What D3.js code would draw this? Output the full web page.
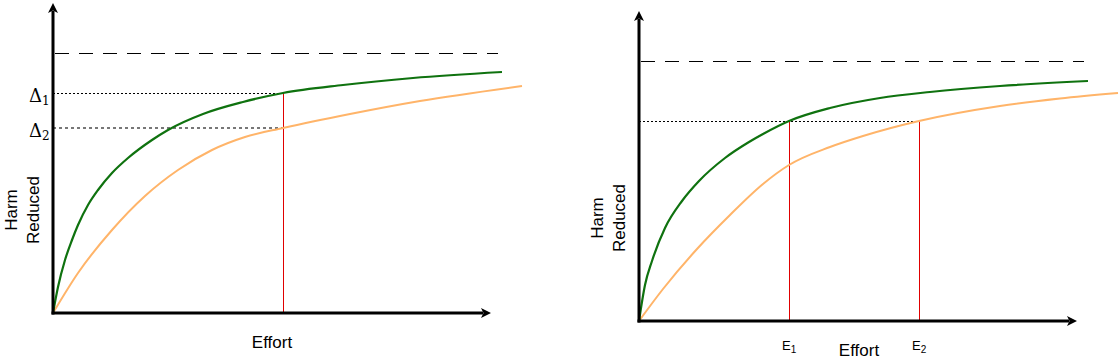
<!DOCTYPE html>
<html>
<head>
<meta charset="utf-8">
<script src="https://cdn.jsdelivr.net/npm/d3@7"></script>
<style>
  html, body { margin: 0; padding: 0; background: #fff; }
  svg { display: block; }
  text { font-family: "Liberation Sans", Arial, Helvetica, sans-serif; fill: #000; }
</style>
</head>
<body>
<svg id="chart" width="1120" height="360"></svg>
<script>
// ---- Data (effort / harm-reduced, arbitrary units) ----
const leftGreenEffort  = [0, 5, 12, 19, 25, 35, 45, 59, 75, 99, 115, 150, 190, 230, 290, 360, 449];
const leftGreenHarm    = [0, 26, 53, 73, 88, 108, 123, 140, 155, 173, 183, 199, 211, 220, 228, 235, 241];
const leftOrangeEffort = [0, 25, 59, 92, 125, 159, 192, 230, 297, 367, 469];
const leftOrangeHarm   = [0, 40, 83, 117, 143, 163, 176, 185, 199, 212, 227];

const rightGreenEffort  = [0, 6, 13, 26, 43, 60, 86, 110, 124, 150, 191, 241, 291, 361, 449];
const rightGreenHarm    = [0, 36, 60, 93, 120, 140, 163, 179, 187, 200, 213, 223, 229, 235, 240];
const rightOrangeEffort = [0, 24, 58, 91, 124, 150, 191, 224, 280, 361, 421, 479];
const rightOrangeHarm   = [0, 32, 72, 106, 137, 156, 174, 185, 200, 215, 222.5, 228];

const leftMaxHarm = 260;          // dashed ceiling
const leftDeltas = [220, 185];    // Δ1, Δ2
const leftDeltaLabels = ["1", "2"];
const leftEffortMark = 230;

const rightMaxHarm = 260;
const rightTargetHarm = 200;
const rightEffortMarks = [150, 280]; // E1, E2
const rightEffortLabels = ["1", "2"];

const axisMaxEffort = 438;
const axisMaxHarm = 310;

const GREEN = "#0f720f";
const ORANGE = "#ffb469";

const svg = d3.select("#chart");

function zip(xs, ys) { return xs.map((x, i) => [x, ys[i]]); }
const crisp = v => Math.round(v) + 0.5;

function panel(opts) {
  const g = svg.append("g");
  const x = d3.scaleLinear().domain([0, 440]).range(opts.xRange);
  const y = d3.scaleLinear().domain([0, 300]).range(opts.yRange);
  const line = d3.line().x(d => x(d[0])).y(d => y(d[1])).curve(d3.curveMonotoneX);

  // dashed ceiling
  g.append("line")
    .attr("x1", x(0) + 2).attr("x2", x(opts.dashEnd))
    .attr("y1", crisp(y(opts.maxHarm))).attr("y2", crisp(y(opts.maxHarm)))
    .attr("stroke", "#000").attr("stroke-width", 1)
    .attr("stroke-dasharray", "14,10");

  opts.extra(g, x, y);

  // curves
  g.append("path").datum(opts.orange).attr("d", line)
    .attr("fill", "none").attr("stroke", ORANGE).attr("stroke-width", 2);
  g.append("path").datum(opts.green).attr("d", line)
    .attr("fill", "none").attr("stroke", GREEN).attr("stroke-width", 2.2);

  // axes
  const x0 = x(0), y0 = y(0);
  const yTop = y(axisMaxHarm), xEnd = x(axisMaxEffort);
  g.append("line").attr("x1", x0).attr("x2", x0).attr("y1", y0 + 1.5).attr("y2", yTop + 8)
    .attr("stroke", "#000").attr("stroke-width", 3);
  g.append("path")
    .attr("d", `M${x0},${yTop} L${x0 - 5},${yTop + 10} L${x0},${yTop + 7.5} L${x0 + 5},${yTop + 10} Z`)
    .attr("fill", "#000");
  g.append("line").attr("x1", x0 - 1.5).attr("x2", xEnd - 8).attr("y1", y0).attr("y2", y0)
    .attr("stroke", "#000").attr("stroke-width", 3);
  g.append("path")
    .attr("d", `M${xEnd},${y0} L${xEnd - 10},${y0 - 5} L${xEnd - 7.5},${y0} L${xEnd - 10},${y0 + 5} Z`)
    .attr("fill", "#000");

  // y label (rotated, two lines)
  const yl = g.append("text")
    .attr("transform", `translate(${opts.yLabelX},${opts.yLabelY}) rotate(-90)`)
    .attr("text-anchor", "middle").attr("font-size", 17);
  yl.append("tspan").attr("x", 0).attr("y", 0).text("Harm");
  yl.append("tspan").attr("x", 0).attr("y", 22).text("Reduced");

  // x label
  g.append("text").attr("x", opts.xLabelX).attr("y", opts.xLabelY)
    .attr("text-anchor", "middle").attr("font-size", 17).text("Effort");
  return g;
}

// ---- Left panel ----
panel({
  xRange: [53, 493], yRange: [313, 13],
  green: zip(leftGreenEffort, leftGreenHarm),
  orange: zip(leftOrangeEffort, leftOrangeHarm),
  maxHarm: leftMaxHarm, dashEnd: 445,
  yLabelX: 17, yLabelY: 210, xLabelX: 272, xLabelY: 348,
  extra: (g, x, y) => {
    // Δ1 dotted (black) and Δ2 dotted (grey)
    g.append("line").attr("x1", x(0)).attr("x2", x(leftEffortMark))
      .attr("y1", crisp(y(leftDeltas[0]))).attr("y2", crisp(y(leftDeltas[0])))
      .attr("stroke", "#000").attr("stroke-width", 1).attr("stroke-dasharray", "2,2");
    g.append("line").attr("x1", x(0)).attr("x2", x(leftEffortMark))
      .attr("y1", Math.round(y(leftDeltas[1]))).attr("y2", Math.round(y(leftDeltas[1])))
      .attr("stroke", "#777").attr("stroke-width", 2).attr("stroke-dasharray", "3,3");
    // vertical
    g.append("line").attr("x1", crisp(x(leftEffortMark))).attr("x2", crisp(x(leftEffortMark)))
      .attr("y1", y(leftDeltas[0])).attr("y2", y(0))
      .attr("stroke", "#e00000").attr("stroke-width", 1);
    // Δ labels
    leftDeltas.forEach((d, i) => {
      const t = g.append("text").attr("x", 29).attr("y", y(d) + 9)
        .attr("font-size", 18).style("font-family", "'DejaVu Serif', 'Liberation Serif', serif");
      t.append("tspan").text("Δ");
      t.append("tspan").attr("font-size", 12).attr("dy", 3).text(leftDeltaLabels[i]);
    });
  }
});

// ---- Right panel ----
panel({
  xRange: [639, 1079], yRange: [321, 21],
  green: zip(rightGreenEffort, rightGreenHarm),
  orange: zip(rightOrangeEffort, rightOrangeHarm),
  maxHarm: rightMaxHarm, dashEnd: 445,
  yLabelX: 603, yLabelY: 218, xLabelX: 859, xLabelY: 356,
  extra: (g, x, y) => {
    g.append("line").attr("x1", x(0)).attr("x2", x(rightEffortMarks[1]))
      .attr("y1", crisp(y(rightTargetHarm))).attr("y2", crisp(y(rightTargetHarm)))
      .attr("stroke", "#000").attr("stroke-width", 1).attr("stroke-dasharray", "2,2");
    rightEffortMarks.forEach((e, i) => {
      g.append("line").attr("x1", crisp(x(e))).attr("x2", crisp(x(e)))
        .attr("y1", y(rightTargetHarm)).attr("y2", y(0))
        .attr("stroke", "#e00000").attr("stroke-width", 1);
      const t = g.append("text").attr("x", x(e) - 7).attr("y", 350).attr("font-size", 13);
      t.append("tspan").text("E");
      t.append("tspan").attr("font-size", 10).attr("dy", 3).text(rightEffortLabels[i]);
    });
  }
});
</script>
</body>
</html>
